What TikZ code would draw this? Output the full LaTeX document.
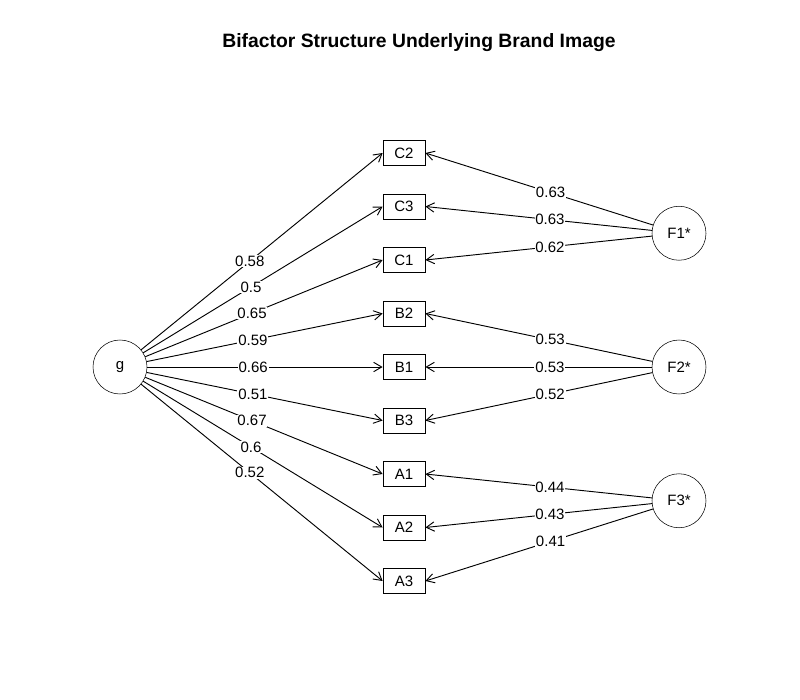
\documentclass[tikz,border=0pt]{standalone}
\usepackage{fontspec}
\setmainfont{Liberation Sans}
\usetikzlibrary{arrows.meta}

\begin{document}
\begin{tikzpicture}[x=0.75pt,y=-0.75pt,>={Straight Barb[length=6pt,width=7pt]},
  every node/.style={font=\fontsize{11.25}{13}\selectfont},
  latent/.style={draw,circle,minimum size=40.5pt,inner sep=0pt},
  item/.style={draw,rectangle,minimum width=31.7pt,minimum height=18.75pt,inner sep=0pt},
  load/.style={fill=white,inner sep=0.6pt,pos=0.45}]
\useasboundingbox (0,0) rectangle (800,700);
\node[anchor=base,font=\bfseries\fontsize{14.5}{17}\selectfont] (title) at (419,47.5) {Bifactor Structure Underlying Brand Image};
% general and group factors
\node[latent] (g) at (120,367) {g};
\node[latent] (F1) at (679,233.25) {F1*};
\node[latent] (F2) at (679,367) {F2*};
\node[latent] (F3) at (679,500.75) {F3*};
% items
\foreach \name [count=\i from 0] in {C2,C3,C1,B2,B1,B3,A1,A2,A3}{
\node[item] (\name) at (404,153+53.5*\i) {\name};}
% loadings on g
\foreach \name/\v in {C2/0.58,C3/0.5,C1/0.65,B2/0.59,B1/0.66,B3/0.51,A1/0.67,A2/0.6,A3/0.52}{
\draw[->,line width=0.7pt] (g) -- (\name.west) node[load] {\v};}
% loadings on group factors
\foreach \f/\name/\v in {F1/C2/0.63,F1/C3/0.63,F1/C1/0.62,F2/B2/0.53,F2/B1/0.53,F2/B3/0.52,F3/A1/0.44,F3/A2/0.43,F3/A3/0.41}{
\draw[->,line width=0.7pt] (\f) -- (\name.east) node[load] {\v};}
\end{tikzpicture}
\end{document}
